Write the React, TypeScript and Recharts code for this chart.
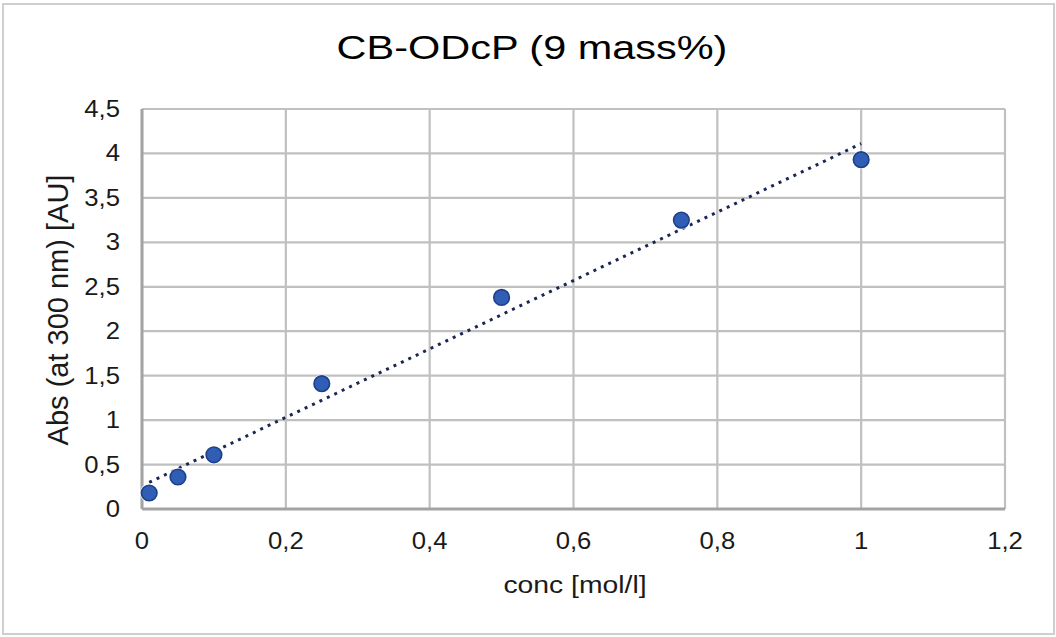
import React from 'react';
import { ScatterChart, Scatter, XAxis, YAxis, CartesianGrid, ReferenceLine, Label } from 'recharts';

const titleText = 'CB-ODcP (9 mass%)';
const xLabelText = 'conc [mol/l]';
const yLabelText = 'Abs (at 300 nm) [AU]';

const concentrations = [0.01, 0.05, 0.1, 0.25, 0.5, 0.75, 1];
const absorbances = [0.18, 0.36, 0.61, 1.41, 2.38, 3.25, 3.93];

const xTicks = [0, 0.2, 0.4, 0.6, 0.8, 1, 1.2];
const yTicks = [0, 0.5, 1, 1.5, 2, 2.5, 3, 3.5, 4, 4.5];

// trendline endpoints
const trendStart = { x: 0.01, y: 0.3 };
const trendEnd = { x: 1, y: 4.11 };

const points = concentrations.map((c, i) => ({ x: c, y: absorbances[i] }));

const FONT = '"Liberation Sans", Arial, sans-serif';
const fmt = (v: number) => String(v).replace('.', ',');

const XTick = (props: any) => {
  const { x, y, payload } = props;
  return (
    <text
      transform={`translate(${x},${y + 40}) scale(1.07,1)`}
      textAnchor="middle"
      fontSize={24}
      fontFamily={FONT}
      fill="#1a1a1a"
    >
      {fmt(payload.value)}
    </text>
  );
};

const YTick = (props: any) => {
  const { x, y, payload } = props;
  return (
    <text
      transform={`translate(${x - 22},${y + 8}) scale(1.07,1)`}
      textAnchor="end"
      fontSize={24}
      fontFamily={FONT}
      fill="#1a1a1a"
    >
      {fmt(payload.value)}
    </text>
  );
};

const Dot = (props: any) => {
  const { cx, cy } = props;
  return (
    <g>
      <circle cx={cx} cy={cy} r={9.5} fill="#ffffff" opacity={0.7} />
      <circle cx={cx} cy={cy} r={7.8} fill="#2F5EB4" stroke="#1D3F8E" strokeWidth={1.6} />
    </g>
  );
};

export default function App() {
  return (
    <div
      style={{
        position: 'absolute',
        left: 0,
        top: 0,
        width: 1056,
        height: 637,
        background: '#ffffff',
        fontFamily: FONT,
      }}
    >
      <div
        style={{
          position: 'absolute',
          left: 2,
          top: 3,
          width: 1053,
          height: 632,
          border: '2px solid #cfcfcf',
          boxSizing: 'border-box',
        }}
      />
      <ScatterChart
        width={1056}
        height={637}
        margin={{ top: 109, right: 51, bottom: 68, left: 42 }}
        style={{ position: 'absolute', left: 0, top: 0 }}
      >
        <text
          transform="translate(532,59) scale(1.22,1)"
          textAnchor="middle"
          fontSize={34}
          fontFamily={FONT}
          fill="#000000"
        >
          {titleText}
        </text>
        <CartesianGrid stroke="#c0c0c0" strokeWidth={2.2} />
        <XAxis
          type="number"
          dataKey="x"
          domain={[0, 1.2]}
          ticks={xTicks}
          interval={0}
          height={60}
          tickSize={0}
          tickMargin={0}
          tick={<XTick />}
          axisLine={{ stroke: '#a3a3a3', strokeWidth: 3 }}
          tickLine={false}
        >
          <Label
            content={(p: any) => {
              const vb = p.viewBox;
              return (
                <text
                  transform={`translate(575,593) scale(1.18,1)`}
                  textAnchor="middle"
                  fontSize={24}
                  fontFamily={FONT}
                  fill="#1a1a1a"
                >
                  {xLabelText}
                </text>
              );
            }}
          />
        </XAxis>
        <YAxis
          type="number"
          dataKey="y"
          domain={[0, 4.5]}
          ticks={yTicks}
          interval={0}
          width={100}
          tickSize={0}
          tickMargin={0}
          tick={<YTick />}
          axisLine={{ stroke: '#a3a3a3', strokeWidth: 3 }}
          tickLine={false}
        >
          <Label
            content={() => (
              <text
                transform="translate(68,310) rotate(-90)"
                textAnchor="middle"
                fontSize={29}
                fontFamily={FONT}
                fill="#1a1a1a"
              >
                {yLabelText}
              </text>
            )}
          />
        </YAxis>
        <ReferenceLine
          segment={[trendStart, trendEnd]}
          stroke="#1B2657"
          strokeWidth={3}
          strokeDasharray="3 5.2"
        />
        <Scatter data={points} isAnimationActive={false} shape={<Dot />} />
      </ScatterChart>
    </div>
  );
}
